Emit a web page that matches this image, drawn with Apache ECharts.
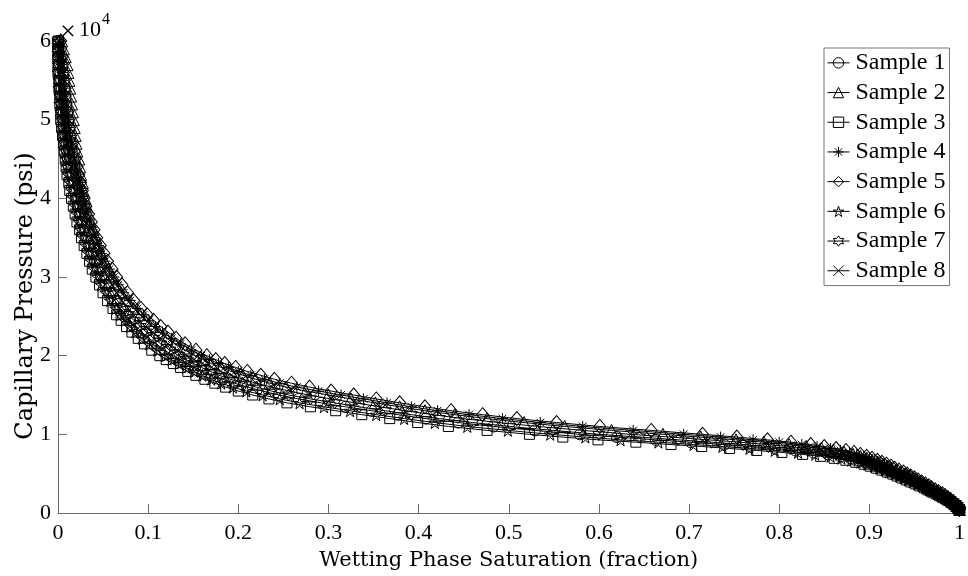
<!DOCTYPE html>
<html>
<head>
<meta charset="utf-8">
<script src="https://cdn.jsdelivr.net/npm/echarts@6/dist/echarts.min.js"></script>
<style>
  html, body { margin: 0; padding: 0; background: #fff; }
  #chart { width: 968px; height: 576px; }
</style>
</head>
<body>
<div id="chart"></div>
<script>
// pressure steps (psi), shared by all samples
const pressure = [
  60000, 59000, 58000, 57000, 56000, 55000, 54000, 53000, 52000, 51000,
  50000, 49000, 48000, 47000, 46000, 45000, 44000, 43000, 42000, 41000,
  40000, 39000, 38000, 37000, 36000, 35000, 34000, 33000, 32000, 31000,
  30000, 29000, 28000, 27000, 26000, 25200, 24500, 23700, 23000, 22200,
  21500, 20700, 20000, 19500, 19000, 18500, 18000, 17500, 17000, 16500,
  16000, 15500, 15000, 14500, 14000, 13500, 13000, 12500, 12000, 11500,
  11000, 10500, 10000, 9650, 9300, 9000, 8700, 8450, 8200, 7950,
  7700, 7450, 7200, 6950, 6700, 6450, 6200, 5950, 5700, 5450,
  5200, 4950, 4700, 4450, 4200, 3950, 3700, 3450, 3200, 2950,
  2700, 2450, 2200, 1950, 1700, 1450, 1200, 950, 700, 450];

// wetting phase saturation (fraction) of each sample at those steps
const sample1 = [
  0, 0, 0, 0.001, 0.001, 0.002, 0.002, 0.003, 0.004, 0.004,
  0.005, 0.006, 0.007, 0.008, 0.010, 0.011, 0.012, 0.014, 0.016, 0.018,
  0.020, 0.022, 0.024, 0.026, 0.028, 0.031, 0.034, 0.037, 0.041, 0.044,
  0.048, 0.053, 0.058, 0.063, 0.069, 0.075, 0.080, 0.087, 0.093, 0.101,
  0.109, 0.118, 0.128, 0.136, 0.144, 0.152, 0.161, 0.171, 0.183, 0.196,
  0.210, 0.227, 0.245, 0.267, 0.292, 0.319, 0.348, 0.377, 0.408, 0.444,
  0.483, 0.529, 0.579, 0.620, 0.663, 0.702, 0.739, 0.768, 0.795, 0.818,
  0.838, 0.854, 0.868, 0.879, 0.888, 0.896, 0.903, 0.909, 0.915, 0.921,
  0.926, 0.931, 0.936, 0.941, 0.946, 0.951, 0.955, 0.959, 0.963, 0.968,
  0.972, 0.976, 0.980, 0.984, 0.987, 0.991, 0.994, 0.997, 0.999, 1.000];
const sample2 = [
  0.004, 0.006, 0.008, 0.010, 0.011, 0.012, 0.013, 0.014, 0.015, 0.016,
  0.017, 0.018, 0.019, 0.020, 0.021, 0.023, 0.024, 0.025, 0.027, 0.028,
  0.030, 0.032, 0.034, 0.036, 0.039, 0.042, 0.045, 0.048, 0.052, 0.056,
  0.060, 0.065, 0.070, 0.077, 0.084, 0.091, 0.097, 0.105, 0.112, 0.121,
  0.130, 0.141, 0.152, 0.161, 0.170, 0.181, 0.192, 0.205, 0.219, 0.235,
  0.253, 0.275, 0.300, 0.325, 0.352, 0.379, 0.407, 0.440, 0.476, 0.517,
  0.562, 0.614, 0.671, 0.713, 0.752, 0.783, 0.811, 0.830, 0.847, 0.860,
  0.872, 0.882, 0.890, 0.897, 0.903, 0.909, 0.915, 0.920, 0.924, 0.929,
  0.934, 0.939, 0.943, 0.948, 0.952, 0.956, 0.960, 0.964, 0.967, 0.971,
  0.975, 0.979, 0.982, 0.986, 0.989, 0.992, 0.995, 0.997, 0.999, 1.000];
const sample3 = [
  0, 0, 0, 0, 0, 0.001, 0.001, 0.002, 0.002, 0.003,
  0.003, 0.004, 0.005, 0.006, 0.007, 0.008, 0.009, 0.010, 0.012, 0.013,
  0.015, 0.017, 0.019, 0.021, 0.024, 0.026, 0.029, 0.032, 0.035, 0.038,
  0.042, 0.046, 0.050, 0.055, 0.061, 0.065, 0.070, 0.076, 0.082, 0.089,
  0.096, 0.104, 0.113, 0.120, 0.128, 0.136, 0.144, 0.153, 0.163, 0.174,
  0.186, 0.200, 0.216, 0.234, 0.254, 0.280, 0.308, 0.337, 0.368, 0.399,
  0.433, 0.476, 0.523, 0.560, 0.599, 0.641, 0.680, 0.714, 0.745, 0.775,
  0.803, 0.826, 0.846, 0.861, 0.874, 0.885, 0.894, 0.901, 0.908, 0.914,
  0.920, 0.926, 0.931, 0.936, 0.941, 0.946, 0.951, 0.956, 0.961, 0.965,
  0.969, 0.974, 0.978, 0.982, 0.986, 0.990, 0.993, 0.996, 0.998, 1.000];
const sample4 = [
  0.002, 0.002, 0.003, 0.004, 0.005, 0.006, 0.007, 0.007, 0.008, 0.010,
  0.011, 0.012, 0.013, 0.015, 0.016, 0.018, 0.020, 0.022, 0.024, 0.026,
  0.028, 0.030, 0.032, 0.035, 0.038, 0.041, 0.045, 0.048, 0.052, 0.057,
  0.062, 0.067, 0.073, 0.080, 0.088, 0.095, 0.101, 0.108, 0.116, 0.126,
  0.136, 0.148, 0.159, 0.168, 0.178, 0.189, 0.200, 0.214, 0.229, 0.246,
  0.265, 0.289, 0.314, 0.339, 0.365, 0.392, 0.421, 0.456, 0.493, 0.535,
  0.582, 0.638, 0.694, 0.735, 0.771, 0.800, 0.825, 0.842, 0.857, 0.868,
  0.878, 0.886, 0.894, 0.900, 0.906, 0.912, 0.917, 0.922, 0.926, 0.931,
  0.936, 0.941, 0.945, 0.949, 0.953, 0.957, 0.961, 0.965, 0.968, 0.972,
  0.976, 0.980, 0.983, 0.986, 0.989, 0.992, 0.995, 0.997, 0.999, 1.000];
const sample5 = [
  0.003, 0.003, 0.004, 0.005, 0.006, 0.007, 0.008, 0.008, 0.009, 0.011,
  0.012, 0.013, 0.014, 0.016, 0.018, 0.019, 0.021, 0.023, 0.025, 0.027,
  0.029, 0.031, 0.034, 0.037, 0.040, 0.043, 0.047, 0.051, 0.055, 0.060,
  0.065, 0.071, 0.077, 0.084, 0.092, 0.099, 0.106, 0.114, 0.122, 0.131,
  0.141, 0.153, 0.165, 0.175, 0.185, 0.197, 0.210, 0.225, 0.240, 0.259,
  0.279, 0.303, 0.328, 0.353, 0.379, 0.407, 0.436, 0.471, 0.509, 0.553,
  0.601, 0.658, 0.715, 0.753, 0.787, 0.813, 0.835, 0.850, 0.863, 0.874,
  0.883, 0.890, 0.897, 0.903, 0.909, 0.914, 0.919, 0.924, 0.928, 0.933,
  0.938, 0.942, 0.946, 0.950, 0.954, 0.958, 0.962, 0.966, 0.969, 0.973,
  0.977, 0.981, 0.984, 0.987, 0.990, 0.993, 0.995, 0.998, 1.000, 1.000];
const sample6 = [
  0, 0, 0, 0, 0, 0.001, 0.001, 0.002, 0.002, 0.003,
  0.004, 0.005, 0.006, 0.007, 0.008, 0.009, 0.010, 0.011, 0.013, 0.015,
  0.017, 0.019, 0.021, 0.023, 0.025, 0.028, 0.031, 0.034, 0.037, 0.040,
  0.044, 0.048, 0.053, 0.058, 0.064, 0.069, 0.074, 0.080, 0.086, 0.093,
  0.101, 0.110, 0.119, 0.126, 0.134, 0.142, 0.151, 0.160, 0.170, 0.181,
  0.194, 0.209, 0.227, 0.246, 0.268, 0.295, 0.324, 0.353, 0.384, 0.418,
  0.454, 0.499, 0.546, 0.585, 0.624, 0.666, 0.705, 0.737, 0.767, 0.795,
  0.821, 0.840, 0.857, 0.869, 0.880, 0.890, 0.898, 0.905, 0.911, 0.917,
  0.922, 0.928, 0.933, 0.938, 0.943, 0.948, 0.953, 0.958, 0.962, 0.966,
  0.970, 0.975, 0.979, 0.983, 0.987, 0.990, 0.993, 0.996, 0.998, 1.000];
const sample7 = [
  0, 0, 0.001, 0.001, 0.002, 0.002, 0.003, 0.004, 0.005, 0.005,
  0.006, 0.007, 0.008, 0.009, 0.011, 0.012, 0.014, 0.015, 0.017, 0.019,
  0.021, 0.023, 0.025, 0.027, 0.030, 0.033, 0.036, 0.039, 0.043, 0.047,
  0.051, 0.056, 0.061, 0.066, 0.072, 0.078, 0.084, 0.091, 0.098, 0.106,
  0.114, 0.124, 0.134, 0.142, 0.150, 0.159, 0.169, 0.179, 0.191, 0.205,
  0.220, 0.237, 0.256, 0.280, 0.307, 0.334, 0.363, 0.392, 0.423, 0.460,
  0.501, 0.549, 0.600, 0.645, 0.688, 0.725, 0.760, 0.788, 0.812, 0.832,
  0.850, 0.863, 0.875, 0.885, 0.893, 0.900, 0.906, 0.912, 0.918, 0.923,
  0.928, 0.933, 0.938, 0.943, 0.947, 0.952, 0.956, 0.960, 0.964, 0.969,
  0.973, 0.977, 0.981, 0.985, 0.988, 0.991, 0.994, 0.997, 0.999, 1.000];
const sample8 = [
  0.001, 0.001, 0.002, 0.002, 0.003, 0.003, 0.004, 0.005, 0.006, 0.007,
  0.008, 0.009, 0.010, 0.011, 0.013, 0.014, 0.016, 0.018, 0.020, 0.022,
  0.024, 0.026, 0.028, 0.030, 0.033, 0.036, 0.039, 0.042, 0.046, 0.050,
  0.055, 0.060, 0.065, 0.071, 0.078, 0.084, 0.090, 0.097, 0.105, 0.113,
  0.122, 0.132, 0.143, 0.151, 0.160, 0.170, 0.180, 0.192, 0.205, 0.220,
  0.237, 0.257, 0.278, 0.303, 0.330, 0.357, 0.385, 0.416, 0.449, 0.489,
  0.532, 0.582, 0.635, 0.680, 0.721, 0.756, 0.787, 0.811, 0.831, 0.847,
  0.862, 0.873, 0.883, 0.891, 0.898, 0.905, 0.911, 0.916, 0.921, 0.926,
  0.931, 0.936, 0.941, 0.946, 0.950, 0.954, 0.958, 0.962, 0.966, 0.970,
  0.974, 0.978, 0.982, 0.985, 0.988, 0.991, 0.994, 0.997, 0.999, 1.000];

const sampleNames = ["Sample 1", "Sample 2", "Sample 3", "Sample 4",
  "Sample 5", "Sample 6", "Sample 7", "Sample 8"];
const samples = [sample1, sample2, sample3, sample4, sample5, sample6, sample7, sample8];

// marker shapes (matlab style, hollow)
const markers = [
  { symbol: "circle", size: 11 },
  { symbol: "triangle", size: 12 },
  { symbol: "rect", size: 10 },
  { symbol: "path://M5,0L5,10M0,5L10,5M1.5,1.5L8.5,8.5M8.5,1.5L1.5,8.5", size: 11 },
  { symbol: "diamond", size: [12, 14] },
  { symbol: "path://M5,0L6.12,3.45L9.76,3.45L6.82,5.59L7.94,9.05L5,6.91L2.06,9.05L3.18,5.59L0.24,3.45L3.88,3.45Z", size: 12 },
  { symbol: "path://M5,0L6.44,2.5L9.33,2.5L7.89,5L9.33,7.5L6.44,7.5L5,10L3.56,7.5L0.67,7.5L2.11,5L0.67,2.5L3.56,2.5Z", size: 12 },
  { symbol: "path://M0,0L10,10M10,0L0,10", size: 10 },
];

const serif = '"Liberation Serif", "Times New Roman", serif';
const titleFont = '"DejaVu Serif", serif';

const chart = echarts.init(document.getElementById("chart"), null, { renderer: "canvas" });

const seriesArr = [];
samples.forEach((sat, i) => {
  seriesArr.push({
    name: sampleNames[i],
    type: "line",
    data: sat.map((s, j) => [s, pressure[j]]),
    symbol: markers[i].symbol,
    symbolSize: markers[i].size,
    showAllSymbol: true,
    lineStyle: { color: "#000", width: 1 },
    itemStyle: { color: "rgba(0,0,0,0)", borderColor: "#000", borderWidth: 1 },
    emphasis: { disabled: true },
    clip: false,
  });
});

const option = {
  animation: false,
  backgroundColor: "#fff",
  grid: { left: 58, right: 6, top: 41, bottom: 59 },
  legend: {
    orient: "vertical",
    left: 824,
    top: 48,
    padding: [0, 4, 0, 3],
    itemGap: 0,
    itemWidth: 22,
    itemHeight: 13,
    backgroundColor: "#fff",
    borderColor: "#777",
    borderWidth: 1,
    borderRadius: 0,
    selectedMode: false,
    itemStyle: { color: "rgba(0,0,0,0)", borderColor: "#000", borderWidth: 1 },
    lineStyle: { color: "#000", width: 1 },
    textStyle: { fontFamily: serif, fontSize: 24, color: "#000", lineHeight: 29.7, padding: [0, 0, 0, 1] },
    data: sampleNames,
  },
  xAxis: {
    type: "value",
    min: 0,
    max: 1,
    interval: 0.1,
    name: "Wetting Phase Saturation (fraction)",
    nameLocation: "middle",
    nameGap: 37,
    nameTextStyle: { fontFamily: titleFont, fontSize: 21, color: "#000" },
    axisLine: { lineStyle: { color: "#6b6b6b", width: 1 } },
    axisTick: { inside: true, length: 9, lineStyle: { color: "#6b6b6b" } },
    axisLabel: { fontFamily: serif, fontSize: 22, color: "#000", margin: 9 },
    splitLine: { show: false },
  },
  yAxis: {
    type: "value",
    min: 0,
    max: 60000,
    interval: 10000,
    axisLine: { show: true, lineStyle: { color: "#6b6b6b", width: 1 } },
    axisTick: { show: true, inside: true, length: 9, lineStyle: { color: "#6b6b6b" } },
    axisLabel: {
      fontFamily: serif, fontSize: 22, color: "#000", margin: 7,
      formatter: (v) => String(v / 10000),
    },
    splitLine: { show: false },
  },
  graphic: [
    {
      type: "text", x: 26, y: 296, rotation: Math.PI / 2,
      style: { text: "Capillary Pressure (psi)", font: "24px " + titleFont, fill: "#000", align: "center", verticalAlign: "middle" },
    },
    {
      type: "text", x: 68, y: 33,
      style: { text: "×", font: "28px " + serif, fill: "#000", align: "center", verticalAlign: "middle" },
    },
    { type: "text", left: 79, top: 19, style: { text: "10", font: "22px " + serif, fill: "#000" } },
    { type: "text", left: 102, top: 12, style: { text: "4", font: "16px " + serif, fill: "#000" } },
  ],
  series: seriesArr,
};

chart.setOption(option);
</script>
</body>
</html>
